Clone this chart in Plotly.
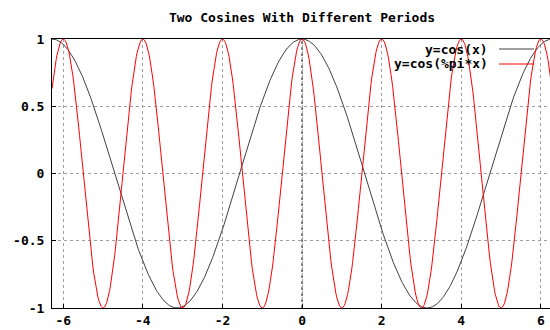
import numpy as np
import plotly.graph_objects as go

title_text = "Two Cosines With Different Periods"
series_names = ["y=cos(x)", "y=cos(%pi*x)"]
series_colors = ["#404040", "#ff0000"]
x_ticks = [-6, -4, -2, 0, 2, 4, 6]
x_tick_labels = ["-6", "-4", "-2", "0", "2", "4", "6"]
y_ticks = [-1, -0.5, 0, 0.5, 1]
y_tick_labels = ["-1", "-0.5", "0", "0.5", "1"]

x = np.linspace(-2 * np.pi, 2 * np.pi, 600)
y_cos = np.cos(x)
y_cospi = np.cos(np.pi * x)
series_values = [y_cos, y_cospi]

FONT = "DejaVu Sans Mono"

fig = go.Figure()
for name, ys, col in zip(series_names, series_values, series_colors):
    fig.add_trace(go.Scatter(x=x, y=ys, mode="lines", name=name,
                             line=dict(color=col, width=1), showlegend=False))

# zero axes (dotted black)
fig.add_shape(type="line", xref="x", yref="paper", x0=0, x1=0, y0=0, y1=1,
              line=dict(color="black", width=1, dash="dot"), layer="below")
fig.add_shape(type="line", xref="paper", yref="y", x0=0, x1=1, y0=0, y1=0,
              line=dict(color="black", width=1, dash="dot"), layer="below")

# legend (gnuplot style: right-aligned text, sample line to the right)
legend_y_px = [49, 64]
for name, col, ypx in zip(series_names, series_colors, legend_y_px):
    yp = 1 - (ypx - 39) / (308 - 39)
    fig.add_annotation(xref="paper", yref="paper", x=(490 - 52) / 498, y=yp,
                       text=name, showarrow=False, xanchor="right", yanchor="middle",
                       font=dict(family=FONT, size=13, color="black", weight="bold"))
    fig.add_shape(type="line", xref="paper", yref="paper",
                  x0=(499 - 52) / 498, x1=(534 - 52) / 498, y0=yp, y1=yp,
                  line=dict(color=col, width=1))

fig.update_layout(
    width=550, height=330,
    margin=dict(l=52, r=0, t=39, b=22),
    paper_bgcolor="white", plot_bgcolor="white",
    title=dict(text=title_text, x=(302) / 550, xanchor="center", xref="container",
               y=1 - 17 / 330, yanchor="middle", yref="container",
               font=dict(family=FONT, size=13, color="black", weight="bold")),
    font=dict(family=FONT, size=13, color="black", weight="bold"),
)
fig.update_xaxes(range=[-2 * np.pi, 6.23], tickvals=x_ticks, ticktext=x_tick_labels,
                 showgrid=True, gridcolor="#a0a0a0", griddash="dot", gridwidth=1,
                 zeroline=False, showline=True, linecolor="black", linewidth=1,
                 mirror=True, ticks="inside", ticklen=4, tickcolor="black",
                 tickfont=dict(family=FONT, size=13, color="black", weight="bold"))
fig.update_yaxes(range=[-1, 1], tickvals=y_ticks, ticktext=y_tick_labels,
                 showgrid=True, gridcolor="#a0a0a0", griddash="dot", gridwidth=1,
                 zeroline=False, showline=True, linecolor="black", linewidth=1,
                 mirror=False, ticks="inside", ticklen=4, tickcolor="black",
                 ticklabelstandoff=4,
                 tickfont=dict(family=FONT, size=13, color="black", weight="bold"))

fig.write_html("out.html")
